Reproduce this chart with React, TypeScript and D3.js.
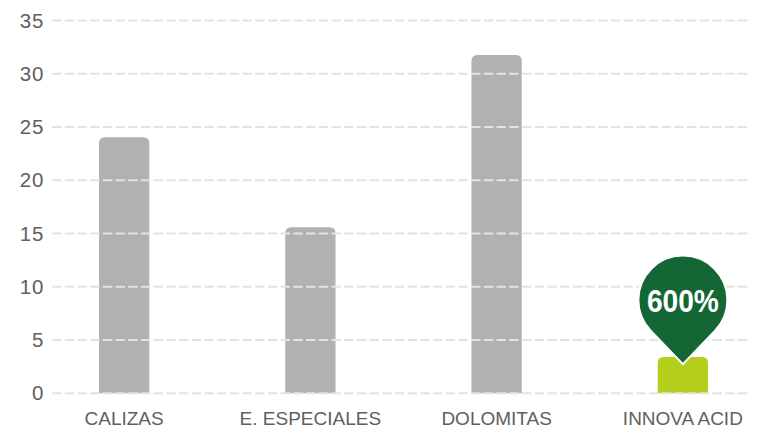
import { useEffect, useRef } from 'react';
import * as d3 from 'd3';

const categories = ['CALIZAS', 'E. ESPECIALES', 'DOLOMITAS', 'INNOVA ACID'];
const values = [24.05, 15.6, 31.75, 3.4];
const barColors = ['#b1b1b1', '#b1b1b1', '#b1b1b1', '#b5cd1b'];
const yTicks = [0, 5, 10, 15, 20, 25, 30, 35];
const highlightLabel = '600%';
const highlightCategory = 'INNOVA ACID';

const width = 757;
const height = 433;
const fontFamily = '"Liberation Sans", Arial, sans-serif';
const narrowFamily = '"Liberation Sans Narrow", "Liberation Sans", Arial, sans-serif';

export default function App() {
    const svgRef = useRef<SVGSVGElement>(null);

    useEffect(() => {
        const svg = d3.select(svgRef.current);
        svg.selectAll('*').remove();

        const xScale = d3.scaleBand<string>()
            .domain(categories)
            .range([31, 776])
            .paddingInner(0.73)
            .paddingOuter(0.365);

        const yScale = d3.scaleLinear()
            .domain([0, 35])
            .range([393.3, 20.5]);

        // Bars, rounded on top only
        const r = 6;
        svg.append('g')
            .selectAll('path')
            .data(categories)
            .enter().append('path')
            .attr('fill', (_, i) => barColors[i])
            .attr('d', (d, i) => {
                const x0 = xScale(d) || 0;
                const x1 = x0 + xScale.bandwidth();
                const top = yScale(values[i]);
                const base = yScale(0);
                return `M${x0},${base}V${top + r}Q${x0},${top} ${x0 + r},${top}H${x1 - r}Q${x1},${top} ${x1},${top + r}V${base}Z`;
            });

        // Grid
        svg.append('g')
            .selectAll('line')
            .data(yTicks)
            .enter().append('line')
            .attr('x1', 52)
            .attr('x2', 750)
            .attr('y1', d => yScale(d))
            .attr('y2', d => yScale(d))
            .attr('stroke', '#e6e3de')
            .attr('stroke-width', 2)
            .attr('stroke-dasharray', '9.5 3.2');

        // Eje Y
        svg.append('g')
            .selectAll('text')
            .data(yTicks)
            .enter().append('text')
            .attr('x', 44.5)
            .attr('y', d => yScale(d) + 7)
            .attr('text-anchor', 'end')
            .style('font-family', fontFamily)
            .style('font-size', '20.5px')
            .style('letter-spacing', '1px')
            .style('fill', '#625e5e')
            .text(d => d);

        // Eje X
        svg.append('g')
            .selectAll('text')
            .data(categories)
            .enter().append('text')
            .attr('x', d => (xScale(d) || 0) + xScale.bandwidth() / 2)
            .attr('y', 425)
            .attr('text-anchor', 'middle')
            .style('font-family', narrowFamily)
            .style('font-size', '19px')
            .style('fill', '#625e5e')
            .text(d => d);

        // Pin
        const hi = categories.indexOf(highlightCategory);
        const cx = (xScale(highlightCategory) || 0) + xScale.bandwidth() / 2;
        const tipY = yScale(values[hi]) + 7;
        const cy = tipY - 64;
        const pinR = 44.5;
        const a = Math.acos(pinR / 64);
        const dx = pinR * Math.sin(a);
        const dy = pinR * Math.cos(a);
        svg.append('path')
            .attr('d', `M${cx},${tipY}L${cx - dx},${cy + dy}A${pinR},${pinR} 0 1 1 ${cx + dx},${cy + dy}Z`)
            .attr('fill', '#156635')
            .attr('stroke', 'white')
            .attr('stroke-width', 2)
            .attr('stroke-linejoin', 'miter');

        svg.append('text')
            .attr('x', cx)
            .attr('y', cy + 12)
            .attr('text-anchor', 'middle')
            .style('font-family', narrowFamily)
            .style('font-size', '32px')
            .style('font-weight', '700')
            .style('fill', 'white')
            .attr('textLength', 72)
            .attr('lengthAdjust', 'spacingAndGlyphs')
            .text(highlightLabel);
    }, []);

    return (
        <svg
            ref={svgRef}
            width={width}
            height={height}
            style={{ position: 'absolute', left: 0, top: 0, background: 'white' }}
        />
    );
}
